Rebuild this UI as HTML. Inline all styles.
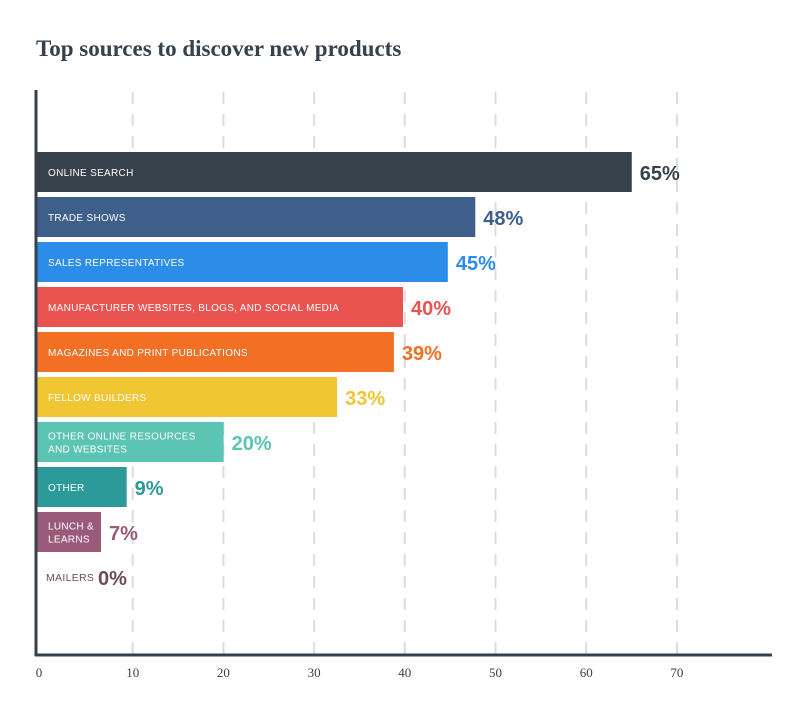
<!DOCTYPE html>
<html><head><meta charset="utf-8"><style>
body{margin:0;background:#fff;width:800px;height:708px;overflow:hidden}
svg text{font-family:"Liberation Sans",sans-serif}
</style></head><body>
<svg width="800" height="708" id="c">
<text x="36" y="56" font-family="Liberation Serif" font-weight="bold" font-size="23" fill="#36414c" style="font-family:'Liberation Serif',serif">Top sources to discover new products</text>
<g id="grid"></g><g id="bars"></g>
<line x1="36" y1="90" x2="36" y2="656" stroke="#36414c" stroke-width="3"/>
<line x1="35" y1="655" x2="772" y2="655" stroke="#36414c" stroke-width="3"/>
<g id="ticks"></g>
</svg>
<script>
const categories=[["ONLINE SEARCH"],["TRADE SHOWS"],["SALES REPRESENTATIVES"],["MANUFACTURER WEBSITES, BLOGS, AND SOCIAL MEDIA"],["MAGAZINES AND PRINT PUBLICATIONS"],["FELLOW BUILDERS"],["OTHER ONLINE RESOURCES","AND WEBSITES"],["OTHER"],["LUNCH &","LEARNS"],["MAILERS"]];
const values=[65,47.9,44.9,40,39,32.8,20.4,9.8,7,0];
const valueLabels=["65%","48%","45%","40%","39%","33%","20%","9%","7%","0%"];
const colors=["#36414c","#3e5f8a","#2b8de8","#ea5450","#f26f24","#f0c632","#5bc4b3","#2b9a98","#9a5b7a","#6e4a5a"];
const tickValues=[0,10,20,30,40,50,60,70];
const ns="http://www.w3.org/2000/svg";
const xBar=v=>37+v*9.15, xGrid=v=>42+v*9.07;
function mk(t,a,p){const e=document.createElementNS(ns,t);for(const k in a)e.setAttribute(k,a[k]);p.appendChild(e);return e;}
const g=document.getElementById('grid'),b=document.getElementById('bars'),tk=document.getElementById('ticks');
tickValues.forEach(v=>{
 if(v>0){const l=mk('line',{x1:xGrid(v),x2:xGrid(v),y1:92,y2:654,stroke:'#dcdcdc','stroke-width':2,'stroke-dasharray':'12 10'},g);
 
 }
 const t=mk('text',{x:v==0?39:xGrid(v),y:677,'text-anchor':'middle','font-size':13,fill:'#36414c',style:"font-family:'Liberation Serif',serif"},tk);t.textContent=v;
 
 
});
values.forEach((v,i)=>{
 const y=152+i*45,h=40,w=xBar(v)-37;
 if(v>0){const r=mk('rect',{x:37,y:y,width:w,height:h,fill:colors[i]},b);
 
 }
 const lines=categories[i];
 const lab=mk('text',{x:v>0?48:46,'font-size':v>0?10:10.5,fill:v>0?'#fff':colors[i],'letter-spacing':'0.3'},b);
 
 
 lines.forEach((s,j)=>{const ts=mk('tspan',{x:v>0?48:46,y:y+h/2+4+(j-(lines.length-1)/2)*13},lab);ts.textContent=s;});
 let lx=xBar(v)+8; if(v==0) lx=98;
 const vt=mk('text',{x:lx,y:y+h/2+8,'font-size':20,'font-weight':'bold',fill:colors[i]},b);vt.textContent=valueLabels[i];
 
 
});
</script>
</body></html>
